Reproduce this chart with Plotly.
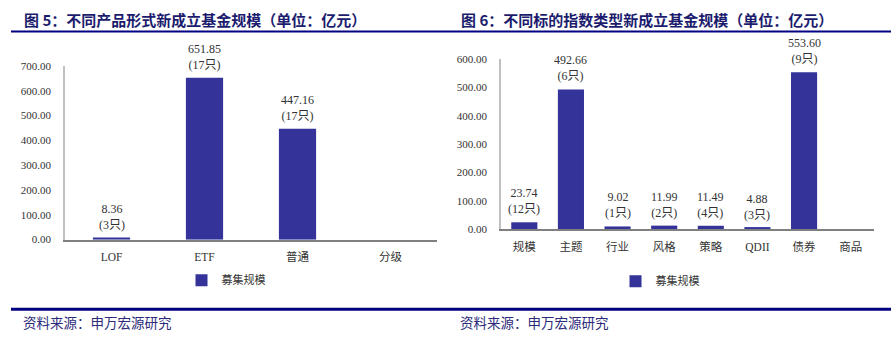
import plotly.graph_objects as go

W, H = 891, 347

# ---- data ----
form_categories = ["LOF", "ETF", "普通", "分级"]
form_amounts = [8.36, 651.85, 447.16, 0]
form_counts = [3, 17, 17, 0]

index_categories = ["规模", "主题", "行业", "风格", "策略", "QDII", "债券", "商品"]
index_amounts = [23.74, 492.66, 9.02, 11.99, 11.49, 4.88, 553.60, 0]
index_counts = [12, 6, 1, 2, 4, 3, 9, 0]

series_name = "募集规模"
left_title = "图 5：不同产品形式新成立基金规模（单位：亿元）"
right_title = "图 6：不同标的指数类型新成立基金规模（单位：亿元）"
source_text = "资料来源：申万宏源研究"

# ---- styling ----
BAR = "#333399"
NAVY = "#000080"
TITLE_C = "#1c1c6e"
TXT = "#333333"
SERIF = "Liberation Serif, Noto Sans CJK SC, serif"
CJK = "Noto Sans CJK SC, sans-serif"


def px_x(x):
    return x / W


def px_y(y):
    return 1 - y / H


fig = go.Figure()

fig.add_trace(go.Bar(
    x=form_categories, y=form_amounts, name=series_name,
    marker=dict(color=BAR, line=dict(width=0)), width=0.4,
    xaxis="x", yaxis="y", legend="legend", showlegend=True,
))
fig.add_trace(go.Bar(
    x=index_categories, y=index_amounts, name=series_name,
    marker=dict(color=BAR, line=dict(width=0)), width=0.56,
    xaxis="x2", yaxis="y2", legend="legend2", showlegend=True,
))

annotations = []
for cats, vals, cnts, xr, yr in [
    (form_categories, form_amounts, form_counts, "x", "y"),
    (index_categories, index_amounts, index_counts, "x2", "y2"),
]:
    for c, v, n in zip(cats, vals, cnts):
        if n <= 0:
            continue
        annotations.append(dict(
            x=c, y=v, xref=xr, yref=yr, text=f"{v:.2f}<br>({n}只)",
            showarrow=False, yanchor="bottom", yshift=4,
            font=dict(family=SERIF, size=12, color=TXT),
        ))

# titles and source lines
annotations += [
    dict(x=px_x(22), y=px_y(14), xref="paper", yref="paper", text=f"<b>{left_title}</b>",
         showarrow=False, xanchor="left", yanchor="middle",
         font=dict(family=CJK, size=15, color=TITLE_C)),
    dict(x=px_x(459), y=px_y(14), xref="paper", yref="paper", text=f"<b>{right_title}</b>",
         showarrow=False, xanchor="left", yanchor="middle",
         font=dict(family=CJK, size=15, color=TITLE_C)),
    dict(x=px_x(21), y=px_y(327), xref="paper", yref="paper", text=source_text,
         showarrow=False, xanchor="left", yanchor="middle",
         font=dict(family=CJK, size=13.5, color="#2b2b7a")),
    dict(x=px_x(458), y=px_y(327), xref="paper", yref="paper", text=source_text,
         showarrow=False, xanchor="left", yanchor="middle",
         font=dict(family=CJK, size=13.5, color="#2b2b7a")),
]

shapes = [
    dict(type="line", xref="paper", yref="paper", x0=px_x(11), x1=1, y0=px_y(26.5), y1=px_y(26.5),
         line=dict(color=NAVY, width=2)),
    dict(type="line", xref="paper", yref="paper", x0=px_x(11), x1=1, y0=px_y(314), y1=px_y(314),
         line=dict(color=NAVY, width=3)),
]

axis_common = dict(showgrid=False, zeroline=False, ticks="", fixedrange=True)

fig.update_layout(
    width=W, height=H, margin=dict(l=0, r=0, t=0, b=0),
    paper_bgcolor="white", plot_bgcolor="white",
    showlegend=True,
    xaxis=dict(domain=[px_x(65), px_x(437)], anchor="y", showline=True, linecolor="#808080",
               linewidth=1.5, ticklabelstandoff=6,
               tickfont=dict(family=SERIF, size=11.5, color=TXT), **axis_common),
    yaxis=dict(domain=[px_y(242), px_y(62)], anchor="x", range=[0, 700], dtick=100,
               tickformat=".2f", showline=True, linecolor="#c0c0c0", linewidth=1.5,
               ticklabelstandoff=10,
               tickfont=dict(family=SERIF, size=11, color=TXT), **axis_common),
    xaxis2=dict(domain=[px_x(501), px_x(874)], anchor="y2", showline=True, linecolor="#808080",
                linewidth=1.5, ticklabelstandoff=6,
                tickfont=dict(family=SERIF, size=11.5, color=TXT), **axis_common),
    yaxis2=dict(domain=[px_y(231), px_y(55)], anchor="x2", range=[0, 600], dtick=100,
                tickformat=".2f", showline=True, linecolor="#c0c0c0", linewidth=1.5,
                ticklabelstandoff=10,
                tickfont=dict(family=SERIF, size=11, color=TXT), **axis_common),
    legend=dict(x=px_x(226), y=px_y(284), xanchor="center", yanchor="middle",
                orientation="h", itemwidth=30, bgcolor="rgba(0,0,0,0)",
                font=dict(family=CJK, size=11, color=TXT)),
    legend2=dict(x=px_x(660), y=px_y(285), xanchor="center", yanchor="middle",
                 orientation="h", itemwidth=30, bgcolor="rgba(0,0,0,0)",
                 font=dict(family=CJK, size=11, color=TXT)),
    annotations=annotations,
    shapes=shapes,
)

fig.write_html("out.html")
